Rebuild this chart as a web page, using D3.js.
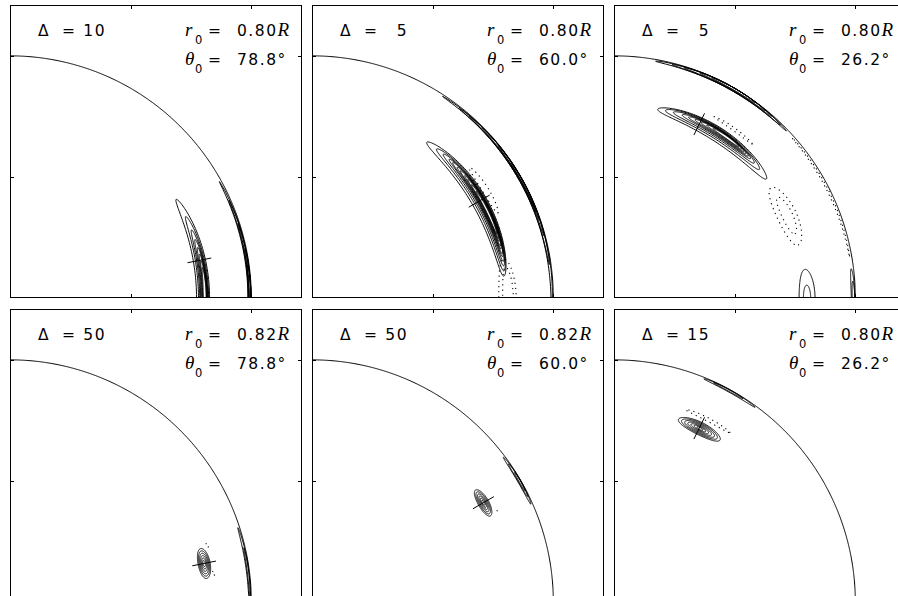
<!DOCTYPE html>
<html>
<head>
<meta charset="utf-8">
<script src="https://cdn.jsdelivr.net/npm/d3@7"></script>
<style>
  html, body { margin: 0; padding: 0; background: #fff; }
  svg { display: block; }
  .lbl { font-family: "DejaVu Sans", "Liberation Sans", sans-serif; font-size: 15.5px; fill: #000; }
  .ital { font-family: "Liberation Serif", "DejaVu Serif", serif; font-style: italic; font-size: 19px; }
  .sub { font-family: "DejaVu Sans", sans-serif; font-size: 11.5px; }
</style>
</head>
<body>
<script>
// ---------------- data ----------------
const deltas   = [10, 5, 5, 50, 50, 15];
const r0s      = ["0.80", "0.80", "0.80", "0.82", "0.82", "0.80"];
const theta0s  = [78.8, 60.0, 26.2, 78.8, 60.0, 26.2];
const thetaLabels = ["78.8°", "60.0°", "26.2°", "78.8°", "60.0°", "26.2°"];
const tickValues = [0.5, 1.0];
const surfaceRadius = 1.0;

// contour rings: [thetaCentre(deg), rCentre(R), thetaHalfWidth(deg), rHalfWidth(R)]
const solidContours = [
  [ [90, 0.800, 30.6, 0.027], [90, 0.802, 24.8, 0.021], [90, 0.803, 20.5, 0.017],
    [90, 0.804, 17.5, 0.014], [90, 0.805, 15.0, 0.012], [90, 0.806, 13.0, 0.010],
    [90, 0.806, 11.0, 0.008], [90, 0.807, 9.0, 0.006] ],
  [ [60, 0.800, 23.5, 0.031], [61, 0.803, 21.0, 0.025], [61.5, 0.805, 19.0, 0.020],
    [62, 0.807, 17.2, 0.0165], [62, 0.808, 15.8, 0.0145], [62.5, 0.809, 14.4, 0.0128],
    [62.5, 0.809, 13.0, 0.0112], [63, 0.810, 11.6, 0.0096], [63, 0.810, 10.2, 0.008],
    [63.5, 0.810, 8.8, 0.0064], [64, 0.810, 7.0, 0.0045] ],
  [ [32.6, 0.800, 19.5, 0.030], [32, 0.803, 16.6, 0.024], [32, 0.805, 14.2, 0.019],
    [32.5, 0.807, 12.0, 0.0155], [33, 0.808, 10.5, 0.013], [33.5, 0.809, 9.0, 0.011],
    [34, 0.810, 7.6, 0.009], [34.5, 0.811, 6.2, 0.007], [35, 0.811, 4.6, 0.005],
    [90, 0.800, 8.5, 0.033], [90, 0.800, 3.8, 0.015] ],
  [ [78.8, 0.820, 4.4, 0.025], [78.8, 0.820, 3.7, 0.021], [78.8, 0.820, 3.0, 0.017],
    [78.8, 0.820, 2.3, 0.013], [78.8, 0.820, 1.6, 0.009], [78.8, 0.820, 0.9, 0.005] ],
  [ [60, 0.820, 4.3, 0.022], [60, 0.820, 3.6, 0.018], [60, 0.820, 2.9, 0.014],
    [60, 0.820, 2.2, 0.010], [60, 0.820, 1.5, 0.007], [60, 0.820, 0.8, 0.004] ],
  [ [26.4, 0.800, 6.9, 0.026], [26.4, 0.800, 5.9, 0.022], [26.4, 0.800, 4.9, 0.018],
    [26.4, 0.800, 3.9, 0.014], [26.4, 0.800, 2.9, 0.010], [26.4, 0.800, 1.9, 0.007],
    [26.4, 0.800, 1.0, 0.004] ]
];

const dottedContours = [
  [],
  [ [58, 0.846, 7.5, 0.013], [90, 0.810, 11.5, 0.036], [90, 0.812, 9, 0.022] ],
  [ [35.5, 0.856, 6.5, 0.006], [64.5, 0.793, 9.5, 0.040], [64.5, 0.795, 6.0, 0.022],
    [64, 0.991, 16, 0.003] ],
  [ [74, 0.850, 0.6, 0.004], [82, 0.852, 0.6, 0.004] ],
  [ [63.6, 0.853, 0.3, 0.002] ],
  [ [27.5, 0.848, 7.0, 0.007] ]
];

const surfaceContours = [
  [ [90, 0.992, 29, 0.006], [90, 0.993, 24, 0.005], [90, 0.994, 18, 0.004], [90, 0.995, 12, 0.003],
    [90, 0.993, 8, 0.006] ],
  [ [63, 0.993, 30, 0.006], [60, 0.993, 22, 0.006], [58, 0.994, 17, 0.005], [58, 0.995, 13, 0.004],
    [60, 0.995, 9, 0.003], [62, 0.996, 6, 0.003] ],
  [ [28, 0.993, 18, 0.007], [29, 0.993, 15, 0.007], [29, 0.994, 12, 0.006], [30, 0.995, 9, 0.005],
    [30, 0.996, 6, 0.004], [88, 0.990, 5, 0.007], [89, 0.992, 3, 0.005] ],
  [ [82, 0.993, 10, 0.005], [83, 0.994, 6, 0.003] ],
  [ [59.5, 0.993, 6.5, 0.006], [59.5, 0.994, 4.5, 0.005], [60, 0.995, 2.5, 0.003] ],
  [ [29, 0.994, 7, 0.005], [28.5, 0.995, 4, 0.003] ]
];

// ---------------- layout ----------------
const W = 898, H = 596;
const panelW = 292, panelH = 293;
const colX = [10, 312, 614];
const rowY = [5, 309];
const domainMax = 1.21;
const markerHalf = 0.05;
const tickLen = 4;

const svg = d3.select("body").append("svg")
  .attr("width", W).attr("height", H)
  .attr("viewBox", `0 0 ${W} ${H}`);

const x = d3.scaleLinear().domain([0, domainMax]).range([0, panelW]);
const y = d3.scaleLinear().domain([0, domainMax]).range([panelH, 0]);

const rad = d => d * Math.PI / 180;
const px = (r, th) => x(r * Math.sin(rad(th)));
const py = (r, th) => y(r * Math.cos(rad(th)));

const ringLine = d3.line().curve(d3.curveLinearClosed);
function ringPoints(c) {
  const [tc, rc, at, ar] = c;
  const n = 180;
  return d3.range(n).map(i => {
    const t = 2 * Math.PI * i / n;
    const th = tc + at * Math.cos(t);
    const r = rc + ar * Math.sin(t);
    return [px(r, th), py(r, th)];
  });
}

const defs = svg.append("defs");

deltas.forEach((delta, i) => {
  const col = i % 3, row = Math.floor(i / 3);
  const ox = colX[col], oy = rowY[row];
  const g = svg.append("g").attr("transform", `translate(${ox},${oy})`);

  defs.append("clipPath").attr("id", "clip" + i)
    .append("rect").attr("x", 0).attr("y", 0).attr("width", panelW).attr("height", panelH);

  const inner = g.append("g").attr("clip-path", `url(#clip${i})`);

  // surface circle (quarter)
  const arc = d3.range(0, 90.01, 0.25).map(th => [px(surfaceRadius, th), py(surfaceRadius, th)]);
  inner.append("path").attr("d", d3.line()(arc))
    .attr("fill", "none").attr("stroke", "#000").attr("stroke-width", 1);

  // surface contours
  inner.selectAll("path.surf").data(surfaceContours[i]).join("path")
    .attr("class", "surf")
    .attr("d", c => ringLine(ringPoints(c)))
    .attr("fill", "none").attr("stroke", "#000").attr("stroke-width", 1);

  // solid contours
  inner.selectAll("path.pos").data(solidContours[i]).join("path")
    .attr("class", "pos")
    .attr("d", c => ringLine(ringPoints(c)))
    .attr("fill", "none").attr("stroke", "#000").attr("stroke-width", 0.95);

  // dotted contours
  inner.selectAll("path.neg").data(dottedContours[i]).join("path")
    .attr("class", "neg")
    .attr("d", c => ringLine(ringPoints(c)))
    .attr("fill", "none").attr("stroke", "#000").attr("stroke-width", 1.1)
    .attr("stroke-dasharray", "1.2 4");

  // target marker (radial segment)
  const r0 = +r0s[i], th0 = theta0s[i];
  inner.append("line")
    .attr("x1", px(r0 - markerHalf, th0)).attr("y1", py(r0 - markerHalf, th0))
    .attr("x2", px(r0 + markerHalf, th0)).attr("y2", py(r0 + markerHalf, th0))
    .attr("stroke", "#000").attr("stroke-width", 1);

  // frame
  g.append("rect").attr("x", 0.5).attr("y", 0.5)
    .attr("width", panelW - 1).attr("height", panelH - 1)
    .attr("fill", "none").attr("stroke", "#000").attr("stroke-width", 1);

  // ticks on all four sides
  tickValues.forEach(v => {
    const xv = Math.round(x(v)) + 0.5, yv = Math.round(y(v)) + 0.5;
    g.append("line").attr("x1", xv).attr("x2", xv).attr("y1", 0).attr("y2", tickLen).attr("stroke", "#000");
    g.append("line").attr("x1", xv).attr("x2", xv).attr("y1", panelH).attr("y2", panelH - tickLen).attr("stroke", "#000");
    g.append("line").attr("y1", yv).attr("y2", yv).attr("x1", 0).attr("x2", tickLen).attr("stroke", "#000");
    g.append("line").attr("y1", yv).attr("y2", yv).attr("x1", panelW).attr("x2", panelW - tickLen).attr("stroke", "#000");
  });

  // labels
  const base1 = 31, base2 = 60;
  g.append("text").attr("class", "lbl").attr("x", 28).attr("y", base1).text("Δ");
  g.append("text").attr("class", "lbl").attr("x", 52).attr("y", base1).text("=");
  g.append("text").attr("class", "lbl").attr("x", 96).attr("y", base1)
    .attr("text-anchor", "end").style("letter-spacing", "1.5px").text(delta);

  const t1 = g.append("text").attr("class", "lbl").attr("x", 175).attr("y", base1);
  t1.append("tspan").attr("class", "ital").text("r");
  t1.append("tspan").attr("class", "sub").attr("x", 185).attr("dy", 8).text("0");
  g.append("text").attr("class", "lbl").attr("x", 198).attr("y", base1).text("=");
  const v1 = g.append("text").attr("class", "lbl").attr("x", 227).attr("y", base1)
    .style("letter-spacing", "1.5px");
  v1.append("tspan").text(r0s[i]);
  v1.append("tspan").attr("class", "ital").style("letter-spacing", "0px").text("R");

  const t2 = g.append("text").attr("class", "lbl").attr("x", 175).attr("y", base2);
  t2.append("tspan").attr("class", "ital").text("θ");
  t2.append("tspan").attr("class", "sub").attr("x", 185).attr("dy", 8).text("0");
  g.append("text").attr("class", "lbl").attr("x", 198).attr("y", base2).text("=");
  g.append("text").attr("class", "lbl").attr("x", 227).attr("y", base2)
    .style("letter-spacing", "1.5px").text(thetaLabels[i]);
});
</script>
</body>
</html>
